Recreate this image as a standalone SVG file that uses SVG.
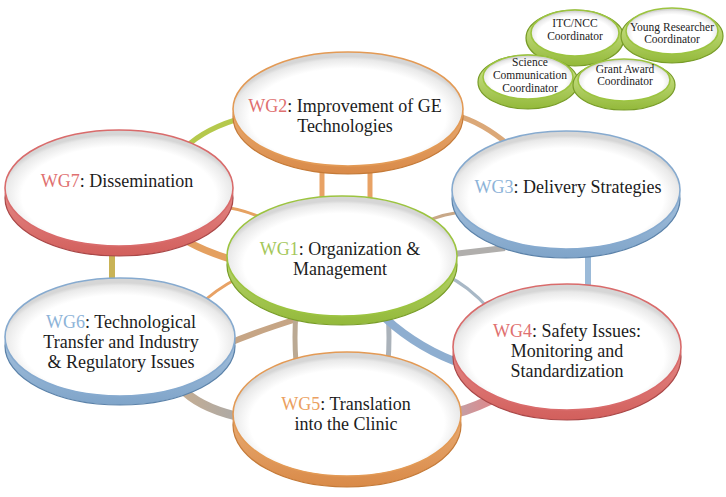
<svg xmlns="http://www.w3.org/2000/svg" width="726" height="497" viewBox="0 0 726 497">
<defs>
<radialGradient id="face" cx="50%" cy="56%" r="52%" fx="50%" fy="62%">
<stop offset="0.82" stop-color="#ffffff"/>
<stop offset="0.96" stop-color="#e9e9e9"/>
<stop offset="1" stop-color="#d6d6d6"/>
</radialGradient>
<linearGradient id="rimO" x1="0" y1="0" x2="0" y2="1"><stop offset="0" stop-color="#f4c596"/><stop offset="1" stop-color="#d98a48"/></linearGradient>
<linearGradient id="rimR" x1="0" y1="0" x2="0" y2="1"><stop offset="0" stop-color="#f2a8a6"/><stop offset="1" stop-color="#d25f5c"/></linearGradient>
<linearGradient id="rimB" x1="0" y1="0" x2="0" y2="1"><stop offset="0" stop-color="#c4d8ec"/><stop offset="1" stop-color="#7fa4c9"/></linearGradient>
<linearGradient id="rimG" x1="0" y1="0" x2="0" y2="1"><stop offset="0" stop-color="#d6ea98"/><stop offset="1" stop-color="#93b93a"/></linearGradient>
<linearGradient id="pinkBand" x1="0" y1="0" x2="1" y2="0"><stop offset="0" stop-color="#b9a9ad"/><stop offset="1" stop-color="#dc8a8e"/></linearGradient>
<linearGradient id="greyBand" x1="0" y1="0" x2="1" y2="0"><stop offset="0" stop-color="#c3ad94"/><stop offset="1" stop-color="#a9a9a9"/></linearGradient>
</defs>
<style>
.k{fill:none;stroke-linecap:butt}
.face{fill:url(#face);stroke-width:1.6}
.rim{stroke-width:1.2}
.o .rim{fill:url(#rimO);stroke:#c47a38}
.o .face{stroke:#e39a55}
.r .rim{fill:url(#rimR);stroke:#a94848}
.r .face{stroke:#d96b6b}
.b .rim{fill:url(#rimB);stroke:#587f a6}
.b .rim{stroke:#5b82a9}
.b .face{stroke:#86aacf}
.g .rim{fill:url(#rimG);stroke:#789c28}
.g .face{stroke:#9cc440}
.t{font-family:"Liberation Serif","Times New Roman",serif;font-size:18px;fill:#1c1c1c;text-anchor:middle}
.c{font-size:11.5px}
.wo{fill:#eba060}.wr{fill:#e07070}.wb{fill:#8db3d8}.wg{fill:#a4c75a}
</style>
<rect width="726" height="497" fill="#ffffff"/>

<g id="connectors">
<path class="k" d="M185 148 Q205 128 245 117" stroke="#b5c94c" stroke-width="5"/>
<path class="k" d="M455 115 Q482 122 510 146" stroke="#dba878" stroke-width="5"/>
<path class="k" d="M322 165 L322 205" stroke="#e8a265" stroke-width="5"/>
<path class="k" d="M370 165 L370 205" stroke="#e8a265" stroke-width="5"/>
<path class="k" d="M220 207 Q240 208 262 218" stroke="#e6a262" stroke-width="3"/>
<path class="k" d="M185 240 Q205 252 240 262" stroke="#e4a060" stroke-width="7"/>
<path class="k" d="M112 250 L112 285" stroke="#c9b356" stroke-width="6"/>
<path class="k" d="M200 305 Q215 290 238 278" stroke="#e8a265" stroke-width="3"/>
<path class="k" d="M225 345 Q255 332 300 318" stroke="#c6a585" stroke-width="6"/>
<path class="k" d="M296 312 Q294 338 296 362" stroke="#bba993" stroke-width="5"/>
<path class="k" d="M388 312 Q390 338 388 362" stroke="#aab2ba" stroke-width="5"/>
<path class="k" d="M185 392 Q205 410 245 418" stroke="url(#greyBand)" stroke-width="9"/>
<path class="k" d="M425 222 Q445 213 465 212" stroke="#c8a888" stroke-width="3"/>
<path class="k" d="M445 255 Q470 252 505 248" stroke="#b0aeac" stroke-width="6"/>
<path class="k" d="M445 275 Q468 285 490 310" stroke="#a8b8c6" stroke-width="3"/>
<path class="k" d="M385 318 Q420 350 465 365" stroke="#8eaed0" stroke-width="8"/>
<path class="k" d="M588 250 L588 290" stroke="#9bbad8" stroke-width="6"/>
<path class="k" d="M445 415 Q465 412 490 400" stroke="url(#pinkBand)" stroke-width="10"/>
</g>

<g id="itc" class="g">
<ellipse class="rim" cx="575" cy="38" rx="49" ry="28"/>
<ellipse class="face" cx="575" cy="33" rx="44" ry="23"/>
<text class="t c" x="575" y="27">ITC/NCC</text>
<text class="t c" x="575" y="40">Coordinator</text>
</g>
<g id="young" class="g">
<ellipse class="rim" cx="672" cy="36" rx="51" ry="27"/>
<ellipse class="face" cx="672" cy="31" rx="46" ry="23"/>
<text class="t c" x="672" y="31">Young Researcher</text>
<text class="t c" x="672" y="43">Coordinator</text>
</g>
<g id="science" class="g">
<ellipse class="rim" cx="528" cy="82" rx="50" ry="27"/>
<ellipse class="face" cx="528" cy="77" rx="45" ry="22"/>
<text class="t c" x="530" y="66">Science</text>
<text class="t c" x="530" y="79">Communication</text>
<text class="t c" x="530" y="92">Coordinator</text>
</g>
<g id="grant" class="g">
<ellipse class="rim" cx="624" cy="85" rx="51" ry="25"/>
<ellipse class="face" cx="624" cy="80" rx="46" ry="21"/>
<text class="t c" x="625" y="73">Grant Award</text>
<text class="t c" x="625" y="85">Coordinator</text>
</g>

<g id="wg2" class="o">
<ellipse class="rim" cx="348" cy="117" rx="115" ry="57"/>
<ellipse class="face" cx="348" cy="109" rx="115" ry="57"/>
<text class="t" x="345" y="112"><tspan class="wr">WG2</tspan>: Improvement of GE</text>
<text class="t" x="345" y="132">Technologies</text>
</g>
<g id="wg7" class="r">
<ellipse class="rim" cx="119" cy="198" rx="114" ry="58"/>
<ellipse class="face" cx="119" cy="188" rx="114" ry="58"/>
<text class="t" x="117" y="187"><tspan class="wr">WG7</tspan>: Dissemination</text>
</g>
<g id="wg3" class="b">
<ellipse class="rim" cx="566" cy="199" rx="114" ry="59"/>
<ellipse class="face" cx="566" cy="190" rx="114" ry="59"/>
<text class="t" x="568" y="193"><tspan class="wb">WG3</tspan>: Delivery Strategies</text>
</g>
<g id="wg1" class="g">
<ellipse class="rim" cx="342" cy="265" rx="115" ry="60"/>
<ellipse class="face" cx="342" cy="256" rx="115" ry="60"/>
<text class="t" x="340" y="255"><tspan class="wg">WG1</tspan>: Organization &amp;</text>
<text class="t" x="340" y="275">Management</text>
</g>
<g id="wg6" class="b">
<ellipse class="rim" cx="120" cy="346" rx="115" ry="59"/>
<ellipse class="face" cx="120" cy="337" rx="115" ry="59"/>
<text class="t" x="121" y="328"><tspan class="wb">WG6</tspan>: Technological</text>
<text class="t" x="121" y="348">Transfer and Industry</text>
<text class="t" x="121" y="368">&amp; Regulatory Issues</text>
</g>
<g id="wg4" class="r">
<ellipse class="rim" cx="567" cy="357" rx="114" ry="63"/>
<ellipse class="face" cx="567" cy="347" rx="114" ry="63"/>
<text class="t" x="567" y="337"><tspan class="wr">WG4</tspan>: Safety Issues:</text>
<text class="t" x="567" y="357">Monitoring and</text>
<text class="t" x="567" y="377">Standardization</text>
</g>
<g id="wg5" class="o">
<ellipse class="rim" cx="347" cy="425" rx="114" ry="62"/>
<ellipse class="face" cx="347" cy="414" rx="114" ry="62"/>
<text class="t" x="346" y="410"><tspan class="wo">WG5</tspan>: Translation</text>
<text class="t" x="346" y="430">into the Clinic</text>
</g>
</svg>
